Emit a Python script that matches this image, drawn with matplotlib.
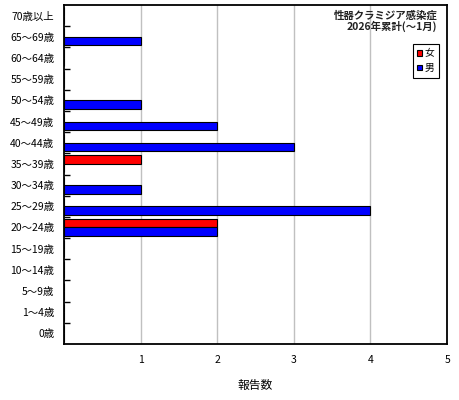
import numpy as np
import matplotlib.pyplot as plt
from matplotlib.ticker import FixedLocator

plt.rcParams['font.family'] = ['Noto Sans CJK JP', 'DejaVu Sans']

ages = ['0歳', '1～4歳', '5～9歳', '10～14歳', '15～19歳', '20～24歳', '25～29歳',
        '30～34歳', '35～39歳', '40～44歳', '45～49歳', '50～54歳', '55～59歳',
        '60～64歳', '65～69歳', '70歳以上']
female = [0, 0, 0, 0, 0, 2, 0, 0, 1, 0, 0, 0, 0, 0, 0, 0]
male = [0, 0, 0, 0, 0, 2, 4, 1, 0, 3, 2, 1, 0, 0, 1, 0]

fig = plt.figure(figsize=(4.6, 4.0), dpi=100)
ax = fig.add_axes([0.139, 0.14, 0.833, 0.8475])

y = np.arange(len(ages))
h = 0.4
ax.barh(y + h/2, female, height=h, color='#ff0000', edgecolor='black', lw=0.8, label='女')
ax.barh(y - h/2, male, height=h, color='#0000ff', edgecolor='black', lw=0.8, label='男')

ax.set_xlim(0, 5)
ax.set_ylim(-0.5, len(ages) - 0.5)
ax.set_xticks([1, 2, 3, 4, 5])
ax.set_xticklabels(['1', '2', '3', '4', '5'], fontsize=7.5)
ax.tick_params(axis='x', length=0, pad=8)
ax.set_yticks(y)
ax.set_yticklabels(ages, fontsize=7.5)
ax.tick_params(axis='y', which='major', length=0, pad=7)
ax.yaxis.set_minor_locator(FixedLocator(np.arange(0.5, len(ages) - 1, 1)))
ax.tick_params(axis='y', which='minor', direction='in', length=4, width=1)
ax.grid(axis='x', color='#c0c0c0', lw=1)
ax.set_axisbelow(True)
for s in ax.spines.values():
    s.set_linewidth(1.3)

ax.set_xlabel('報告数', fontsize=8.5, labelpad=10)

ax.text(0.974, 0.985, '性器クラミジア感染症\n2026年累計(～1月)', transform=ax.transAxes,
        ha='right', va='top', fontsize=7.5, fontweight='bold', color='#222222',
        linespacing=1.0)

leg = ax.legend(loc='upper right', bbox_to_anchor=(0.978, 0.885), fontsize=7,
                fancybox=False, edgecolor='black', framealpha=1,
                handlelength=0.45, handleheight=0.45, handletextpad=0.3,
                borderpad=0.45, labelspacing=0.5, borderaxespad=0)
leg.get_frame().set_linewidth(0.8)

fig.savefig('out.png', dpi=100)
